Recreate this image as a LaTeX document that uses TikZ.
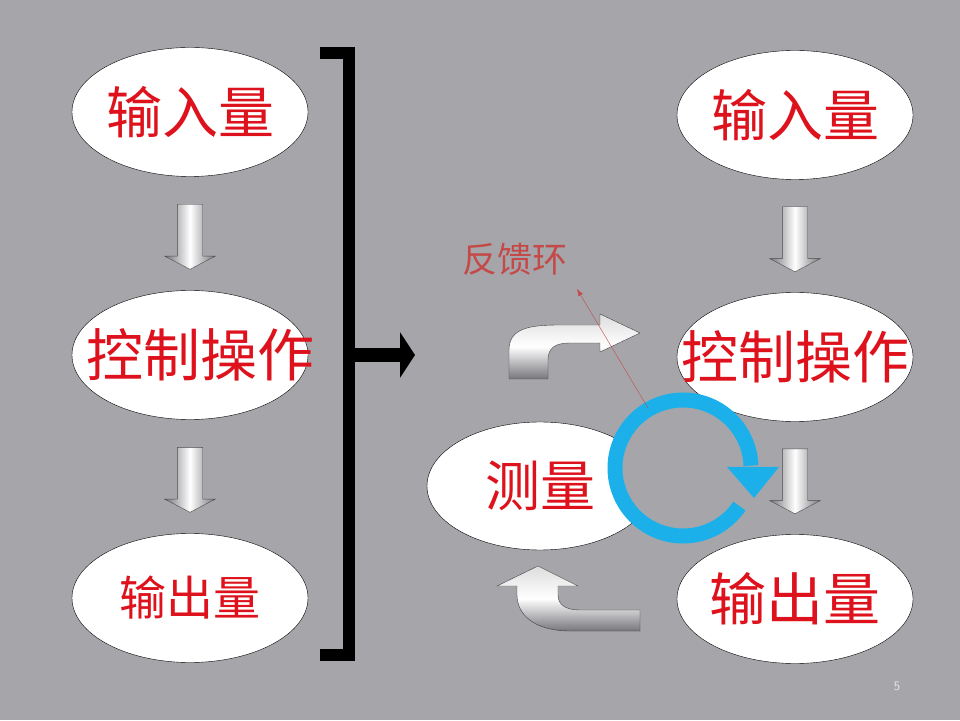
\documentclass[tikz,border=0pt]{standalone}
\usepackage{fontspec}
\newfontfamily\cjk{Noto Sans CJK SC}
\usetikzlibrary{positioning,calc,shapes.geometric,shapes.arrows,arrows.meta}
\definecolor{slide}{RGB}{166,166,170}
\definecolor{txtred}{RGB}{222,18,28}
\definecolor{loopred}{RGB}{196,74,74}
\definecolor{ringblue}{RGB}{28,176,234}
\definecolor{edgegray}{RGB}{118,118,124}
\newcommand\zh[1]{\cjk\fontsize{#1}{#1}\selectfont}

\begin{document}
\begin{tikzpicture}[x=1pt,y=1pt,node distance=243pt,on grid,
    oval/.style={ellipse,draw=black,thin,fill=white,inner sep=0pt,
        minimum width=236pt,minimum height=129pt,text=txtred},
    downarrow/.style={single arrow,shape border rotate=270,draw=black!70,thin,
        minimum height=65pt,minimum width=50pt,inner sep=12.5pt,
        single arrow head extend=12.5pt,single arrow tip angle=125,
        left color=edgegray,right color=edgegray,middle color=white},
    bentarrow/.style={draw=black!75,thin,top color=white!75!edgegray,
        bottom color=edgegray,middle color=white}]
    \fill[slide] (0,0) rectangle (960,720);
    \useasboundingbox (0,0) rectangle (960,720);

    % left column: without feedback
    \node[oval,font={\zh{56}}] (inL)  at (190,608)   {\makebox[0pt]{输入量}};
    \node[oval,font={\zh{57}}] (ctlL) [below=of inL]  {\makebox[0pt]{\hspace{20pt}控制操作}};
    \node[oval,font={\zh{47}}] (outL) [below=of ctlL] {\makebox[0pt]{输出量}};
    \node[downarrow] at ($(inL.south)!0.5!(ctlL.north)$) {};
    \node[downarrow] at ($(ctlL.south)!0.5!(outL.north)$) {};

    % bracket and arrow to the right
    \draw[line width=12pt] (320,667) -- (349,667) -- (349,65) -- (320,65);
    \coordinate (brk)   at (349,365);
    \coordinate (brkto) at (415,365);
    \draw[line width=14pt,-{Triangle[length=15pt,width=45pt]}] (brk) -- (brkto);

    % right column: with feedback
    \node[oval,font={\zh{56}}] (inR)  at (795,605)        {\makebox[0pt]{输入量}};
    \node[oval,font={\zh{57}}] (ctlR) [below=242pt of inR]  {\makebox[0pt]{控制操作}};
    \node[oval,font={\zh{57}}] (outR) [below=242pt of ctlR] {\makebox[0pt]{输出量}};
    \node[oval,font={\zh{55}},minimum width=226pt,minimum height=128pt] (meas)
        at (540,234) {\makebox[0pt]{测量}};
    \node[downarrow] at ($(inR.south)!0.5!(ctlR.north)$) {};
    \node[downarrow] at ($(ctlR.south)!0.5!(outR.north)$) {};

    % bent arrows of the loop
    \path[bentarrow] (509,341) -- (509,370) .. controls (509,392) and (530,395) .. (560,395)
        -- (600,395) -- (600,406) -- (640,387) -- (600,368) -- (600,377) -- (570,377)
        .. controls (555,377) and (548,372) .. (548,360) -- (548,341) -- cycle;
    \path[bentarrow] (497,134) -- (538,154) -- (578,134) -- (558,134) -- (558,125)
        .. controls (558,115) and (566,110) .. (580,110) -- (640,110) -- (640,89)
        -- (570,89) .. controls (535,89) and (517,105) .. (517,125) -- (517,134) -- cycle;

    % blue circular arrow
    \coordinate (loopc) at (683,252);
    \fill[slide] (loopc) circle[radius=68pt];
    \draw[ringblue,line width=15pt] ($(loopc)+(-34:68pt)$)
        arc[start angle=-34,end angle=-358,radius=68pt];
    \fill[ringblue] (727,253) -- (779,253) -- (754,222) -- cycle;

    % feedback label
    \node[text=loopred,font={\zh{35}}] (fb) at (515,461) {反馈环};
    \coordinate (fbfoot) at (648,312);
    \coordinate (fbtip)  at (577,431);
    \draw[loopred,thin,-{Latex[length=7pt,width=5pt]}] (fbfoot) -- (fbtip);

    \node[text=white!75!slide,font=\sffamily\fontsize{13}{13}\selectfont] (pg) at (897,34) {5};
\end{tikzpicture}
\end{document}
